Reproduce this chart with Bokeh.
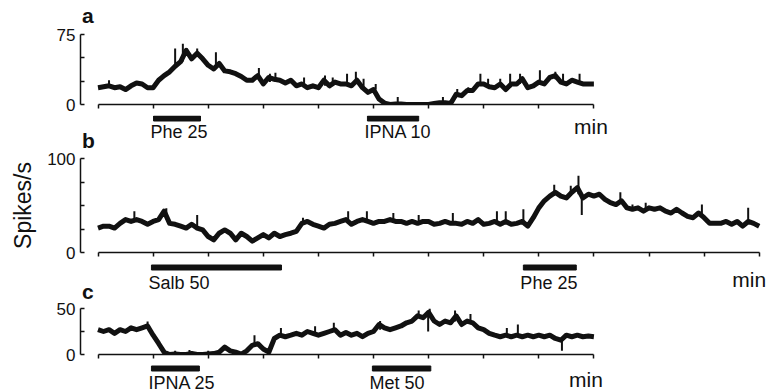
from bokeh.plotting import figure
from bokeh.layouts import column
from bokeh.models import FixedTicker, Range1d, ColumnDataSource
from bokeh.core.properties import value
from bokeh.embed import file_html
from bokeh.resources import INLINE
import numpy as np

# ---------------- data ----------------
STEP = 0.5  # minutes between samples

rate_a = [18, 19, 20, 18, 19, 16, 20, 23, 22, 18,
          18, 26, 31, 35, 41, 46, 58, 49, 55, 49,
          42, 38, 44, 36, 35, 33, 30, 26, 26, 31,
          22, 29, 27, 26, 23, 26, 20, 22, 18, 20,
          18, 26, 20, 24, 22, 22, 20, 26, 18, 13,
          16, 6, 1.5, 0, 0.5, 0.5, 0, 0, 0, 0,
          0, 1, 2, 2, 1, 11, 9.5, 15, 15, 22,
          22, 19, 18, 22, 16, 22, 22, 27.6, 18, 20,
          24, 22, 29, 31, 24, 22, 26, 24, 22, 22, 22]

rate_b = [26, 28, 28, 26, 31, 35, 33, 35, 33, 30,
          33, 35, 44, 31, 30, 28, 26, 30, 26, 24,
          17, 13.5, 20.5, 24, 20.5, 13.5, 20.5, 17, 12, 15.5,
          19, 15.5, 20.5, 17, 19, 20.5, 22.5, 31, 33, 30,
          28, 26, 30, 31, 33, 35, 30, 33, 35, 33,
          31, 33, 33, 35, 33, 33, 31, 33, 31, 33,
          33, 30, 31, 33, 31, 31, 30, 33, 31, 35,
          30, 31, 33, 30, 33, 30, 31, 33, 28, 37,
          47.5, 55, 60, 64, 60, 58, 64, 69, 58, 62,
          60, 62, 56.6, 53, 51, 55, 47.5, 46, 47.5, 44,
          47.5, 46, 47.5, 44, 42, 46, 42, 38.5, 37, 42,
          37, 31, 31, 31, 33, 30, 33, 28, 33, 31, 28]

rate_c = [27, 25, 27, 23, 27, 25, 29, 27, 29, 31,
          21, 12, 2.5, 0, 0.5, 0, 0, 1, 0, 0,
          0.5, 1, 2.5, 8, 4, 2.5, 0.5, 4, 10, 11.8,
          6, 2.5, 17.4, 21, 19.3, 21, 23, 21, 25, 23,
          21, 23, 25, 27, 21, 24, 21, 23, 19.3, 23,
          25, 32.6, 29, 27, 29, 31, 34.5, 36.4, 42, 40,
          45.8, 36.4, 32.6, 36.4, 34.5, 42, 32.6, 36.4, 34.5, 29,
          27, 23, 21, 19.3, 21, 19.3, 21, 19.3, 21, 19.3,
          21, 19.3, 21, 17.4, 15.5, 21, 19.3, 21, 19.3, 20, 19.3]

# brief excursions: time, low, high
spike_a_t = [1.0, 7.0, 7.7, 9.0, 10.7, 14.6, 15.6, 16.1, 18.7, 20.6, 21.3,
             22.6, 23.4, 24.1, 25.2, 27.2, 31.3, 32.6, 33.6, 34.7, 35.4,
             36.5, 37.4, 38.3, 40.1, 41.5, 42.2, 43.7]
spike_a_lo = [18, 40, 46, 52, 38, 26, 24, 24, 20, 20, 20,
              22, 22, 18, 16, 0, 2, 9, 15, 20, 20,
              20, 18, 22, 22, 27, 24, 24]
spike_a_hi = [26, 60, 65, 60, 56, 39, 33, 34, 29, 31, 29,
              33, 35, 27.5, 22, 8, 8, 16.6, 18.5, 33, 27.5,
              27.5, 33, 33, 36.6, 35, 33, 33]

spike_b_t = [3.3, 6.2, 9.0, 18.6, 22.7, 24.4, 26.8, 29.1, 32.2, 36.2, 37.0,
             38.6, 41.4, 42.9, 43.6, 43.9, 47.4, 48.5, 49.7, 54.8, 59.0]
spike_b_lo = [33, 35, 28, 30, 33, 33, 33, 31, 31, 31, 31,
              31, 60, 60, 62, 40, 53, 46, 46, 38, 31]
spike_b_hi = [44, 47, 40, 37, 44, 44, 42, 40, 42, 44, 44,
              46, 72, 71, 81.6, 58, 64, 51, 53, 51, 47.5]

spike_c_t = [4.5, 7.0, 8.3, 10.0, 14.2, 16.6, 19.7, 21.4, 25.6, 29.1,
             29.96, 30.1, 32.4, 33.8, 37.1, 38.1, 42.1]
spike_c_lo = [29, 0, 0, 0, 10, 20, 23, 25, 27, 40,
              25, 42, 36, 35, 20, 20, 4]
spike_c_hi = [36, 4, 5, 4, 21, 28.8, 30.7, 34.5, 36.4, 47.7,
              42, 50, 47.7, 44, 28.8, 32.6, 17]

# drug applications
drug_a = ["Phe 25", "IPNA 10"]
drug_a_on = [5.04, 24.45]
drug_a_off = [9.3, 29.1]
drug_b = ["Salb 50", "Phe 25"]
drug_b_on = [4.85, 38.6]
drug_b_off = [16.65, 43.4]
drug_c = ["IPNA 25", "Met 50"]
drug_c_on = [4.85, 24.9]
drug_c_off = [9.2, 30.2]

panel_labels = ["a", "b", "c"]
y_ticks = [[0, 25, 50, 75], [0, 25, 50, 75, 100], [0, 25, 50]]
y_top = [75, 100, 50]
x_len = [45, 60, 45]  # minutes recorded
TICK_EVERY = 5
unit_label = "min"
y_title = "Spikes/s"

# ---------------- layout / style ----------------
W = 767
LEFT = 80
PX_PER_MIN = 11.02
X0 = -(97.5 - LEFT) / PX_PER_MIN
X1 = X0 + (W - LEFT) / PX_PER_MIN
LETTER_X = -1.45
FONT = "Liberation Sans"
INK = "#111111"


def base_fig(h, y_range, top, bottom, axes=True):
    kw = {}
    if not axes:
        kw = dict(x_axis_location=None, y_axis_location=None)
    p = figure(width=W, height=h, output_backend="svg", toolbar_location=None,
               tools="", x_range=Range1d(X0, X1), y_range=y_range,
               min_border_left=LEFT, min_border_right=0, min_border_top=top,
               min_border_bottom=bottom, **kw)
    p.outline_line_color = None
    p.grid.grid_line_color = None
    p.background_fill_color = "white"
    p.border_fill_color = "white"
    return p


def trace_fig(vals, st, slo, shi, ticks, top, xlen, fig_h, border_top,
              border_bottom, ylabel=None):
    p = base_fig(fig_h, Range1d(0, top), border_top, border_bottom)
    t = np.arange(len(vals)) * STEP
    p.line(t, vals, line_width=5, color=INK, line_join="round")
    p.segment(x0=st, y0=slo, x1=st, y1=shi, line_width=2, color=INK)

    xticks = list(range(0, xlen + 1, TICK_EVERY))
    xa = p.xaxis[0]
    xa.ticker = FixedTicker(ticks=xticks)
    xa.bounds = (0, xlen)
    xa.major_label_overrides = {k: "" for k in xticks}
    xa.major_label_standoff = 0
    xa.major_tick_out = 4
    xa.major_tick_in = 0
    xa.minor_tick_out = 0
    xa.minor_tick_in = 0
    xa.axis_line_width = 1.5
    xa.major_tick_line_width = 1.5
    xa.axis_line_color = INK
    xa.major_tick_line_color = INK

    ya = p.yaxis[0]
    ya.ticker = FixedTicker(ticks=ticks)
    ya.major_label_overrides = {k: "" for k in ticks if k not in (0, top)}
    ya.major_tick_in = 4
    ya.major_tick_out = 0
    ya.minor_tick_in = 0
    ya.minor_tick_out = 0
    ya.axis_line_width = 1.5
    ya.major_tick_line_width = 1.5
    ya.axis_line_color = INK
    ya.major_tick_line_color = INK
    ya.major_label_text_font = FONT
    ya.major_label_text_font_size = "17px"
    ya.major_label_text_color = INK
    ya.major_label_standoff = 5
    if ylabel:
        ya.axis_label = ylabel
        ya.axis_label_text_font = FONT
        ya.axis_label_text_font_size = "23px"
        ya.axis_label_text_font_style = "normal"
        ya.axis_label_text_color = INK
        ya.axis_label_standoff = 8
    return p


def strip_fig(h, names=None, on=None, off=None, xlen=None, bar_y=0, label_y=0,
              min_y=0, min_dx=0, letter=None, letter_y=0):
    p = base_fig(h, Range1d(0, h), 0, 0, axes=False)
    if names:
        src = ColumnDataSource(dict(name=names, on=on, off=off))
        p.hbar(y=bar_y, left="on", right="off", height=5, color=INK, source=src)
        p.text(x="on", y=label_y, text="name", source=src, text_font=value(FONT),
               text_font_size="18px", text_color=INK, text_align="left",
               text_baseline="alphabetic", x_offset=-3)
        p.text(x=[xlen], y=[min_y], text=[unit_label], text_font=value(FONT),
               text_font_size="21px", text_color=INK, text_align="right",
               text_baseline="alphabetic", x_offset=min_dx)
    if letter:
        p.text(x=[LETTER_X], y=[letter_y], text=[letter], text_font=value(FONT),
               text_font_style="bold", text_font_size="21px", text_color=INK,
               text_align="left", text_baseline="alphabetic")
    return p


s0 = strip_fig(27, letter=panel_labels[0], letter_y=12)
pa = trace_fig(rate_a, spike_a_t, spike_a_lo, spike_a_hi, y_ticks[0], y_top[0],
               x_len[0], 88, 7, 11)
sa = strip_fig(37, drug_a, drug_a_on, drug_a_off, x_len[0], bar_y=34, label_y=21,
               min_y=26, min_dx=14, letter=panel_labels[1], letter_y=12)
pb = trace_fig(rate_b, spike_b_t, spike_b_lo, spike_b_hi, y_ticks[1], y_top[1],
               x_len[1], 110, 6, 10, ylabel=y_title)
sb = strip_fig(39, drug_b, drug_b_on, drug_b_off, x_len[1], bar_y=34, label_y=19,
               min_y=22, min_dx=7, letter=panel_labels[2], letter_y=10)
pc = trace_fig(rate_c, spike_c_t, spike_c_lo, spike_c_hi, y_ticks[2], y_top[2],
               x_len[2], 63, 7, 10)
sc = strip_fig(28, drug_c, drug_c_on, drug_c_off, x_len[2], bar_y=24, label_y=10,
               min_y=13, min_dx=9)

layout = column(s0, pa, sa, pb, sb, pc, sc, spacing=0)
open("out.html", "w").write(file_html(layout, INLINE))
